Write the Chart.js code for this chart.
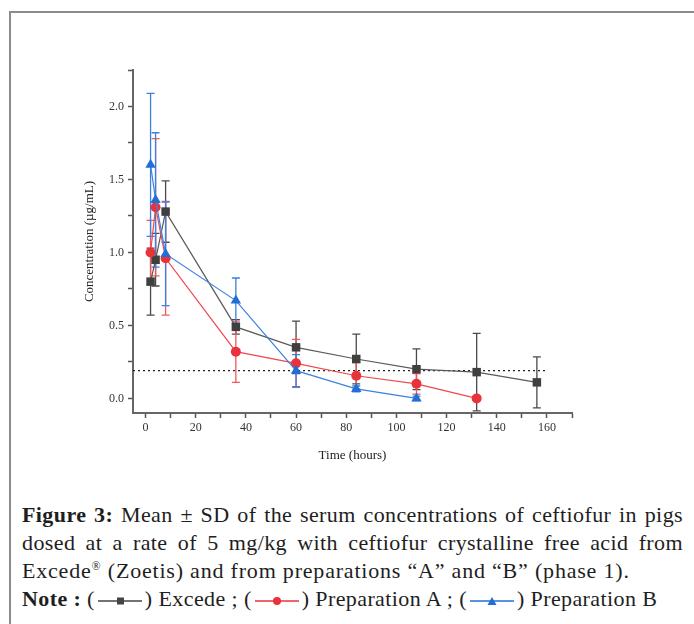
<!DOCTYPE html>
<html>
<head>
<meta charset="utf-8">
<script src="https://cdn.jsdelivr.net/npm/chart.js@4/dist/chart.umd.min.js"></script>
<style>
  html, body { margin: 0; padding: 0; background: #fff; }
  body { width: 694px; height: 624px; position: relative; overflow: hidden; }
  .frame { position: absolute; left: 9px; top: 11px; width: 700px; height: 700px;
           border-left: 2px solid #8c8c8c; border-top: 2px solid #8c8c8c; }
  #wrap { position: absolute; left: 0; top: 0; width: 694px; height: 480px; }
  .cap { position: absolute; left: 22px; top: 501px; width: 661px;
         font-family: "Liberation Serif", "DejaVu Serif", serif; font-size: 22px;
         line-height: 28px; color: #1e1e1e; }
  .cap .j { text-align: justify; text-align-last: justify; white-space: nowrap;
            letter-spacing: 0.4px; word-spacing: -1px; }
  .cap .l3 { letter-spacing: 0.8px; white-space: nowrap; }
  .cap .l4 { letter-spacing: 0.4px; white-space: nowrap; }
  .cap sup { font-size: 12px; line-height: 0; }
  .cap svg { vertical-align: 0px; margin: 0 3px; }
</style>
</head>
<body>
<div class="frame"></div>
<div id="wrap"><canvas id="pkChart"></canvas></div>
<div class="cap">
  <div class="j"><b>Figure 3:</b> Mean ± SD of the serum concentrations of ceftiofur in pigs</div>
  <div class="j">dosed at a rate of 5 mg/kg with ceftiofur crystalline free acid from</div>
  <div class="l3">Excede<sup>®</sup> (Zoetis) and from preparations “A” and “B” (phase 1).</div>
  <div class="l4"><b>Note :</b> (<svg width="44" height="10"><line x1="0" y1="5" x2="44" y2="5" stroke="#444" stroke-width="1.5"/><rect x="19" y="1.5" width="7" height="7" fill="#444"/></svg>) Excede ; (<svg width="44" height="10"><line x1="0" y1="5" x2="44" y2="5" stroke="#e8333b" stroke-width="1.5"/><circle cx="22" cy="5" r="4" fill="#e8333b"/></svg>) Preparation A ; (<svg width="44" height="10"><line x1="0" y1="5" x2="44" y2="5" stroke="#1f6fd6" stroke-width="1.5"/><polygon points="22,1 26.5,9 17.5,9" fill="#1f6fd6"/></svg>) Preparation B</div>
</div>
<script>
// sampling times (hours)
const timeExcede = [2, 4, 8, 36, 60, 84, 108, 132, 156];
const timeA = [2, 4, 8, 36, 60, 84, 108, 132];
const timeB = [2, 4, 8, 36, 60, 84, 108];

// mean concentrations (µg/mL) and SD
const excedeMean = [0.80, 0.95, 1.28, 0.49, 0.35, 0.27, 0.20, 0.18, 0.11];
const excedeSD   = [0.23, 0.18, 0.21, 0.05, 0.18, 0.17, 0.14, 0.265, 0.175];
const prepAMean  = [1.00, 1.31, 0.96, 0.32, 0.24, 0.155, 0.10, 0.00];
const prepASD    = [0.22, 0.47, 0.39, 0.21, 0.165, 0.09, 0.07, 0];
const prepBMean  = [1.60, 1.36, 0.99, 0.67, 0.19, 0.065, 0.00];
const prepBSD    = [0.49, 0.46, 0.355, 0.155, 0.11, 0.02, 0.015];

// dotted reference level
const refTimes = [-5, 160];
const refLevel = [0.19, 0.19];

// axis ticks (major ones get a label)
const xTicks = [0, 10, 20, 30, 40, 50, 60, 70, 80, 90, 100, 110, 120, 130, 140, 150, 160, 170];
const xLabels = [0, 20, 40, 60, 80, 100, 120, 140, 160];
const yTicks = [0, 0.25, 0.5, 0.75, 1, 1.25, 1.5, 1.75, 2, 2.25];
const yLabels = [0, 0.5, 1, 1.5, 2];

const serif = '"Liberation Serif", "DejaVu Serif", serif';

function pts(xs, ys) {
    return xs.map((x, i) => ({ x: x, y: ys[i] }));
}

// draws the mean ± SD bars with the chart's own scales
const errorBars = {
    id: 'errorBars',
    beforeDatasetsDraw(chart) {
        const ctx = chart.ctx;
        const xs = chart.scales.x, ys = chart.scales.y;
        chart.data.datasets.forEach(ds => {
            if (!ds.sd) return;
            ctx.save();
            ctx.strokeStyle = ds.barColor;
            ctx.lineWidth = 1.3;
            ds.data.forEach((p, j) => {
                const sd = ds.sd[j];
                if (!sd) return;
                const x = xs.getPixelForValue(p.x);
                const yt = ys.getPixelForValue(p.y + sd);
                const yb = ys.getPixelForValue(p.y - sd);
                ctx.beginPath();
                ctx.moveTo(x, yt); ctx.lineTo(x, yb);
                ctx.moveTo(x - 4, yt); ctx.lineTo(x + 4, yt);
                ctx.moveTo(x - 4, yb); ctx.lineTo(x + 4, yb);
                ctx.stroke();
            });
            ctx.restore();
        });
    }
};

const ctx = document.getElementById('pkChart').getContext('2d');
const pkChart = new Chart(ctx, {
    type: 'line',
    data: {
        datasets: [
            {
                label: 'Excede',
                data: pts(timeExcede, excedeMean),
                sd: excedeSD,
                barColor: '#4a4a4a',
                borderColor: '#5a5a5a',
                backgroundColor: '#3f3f3f',
                borderWidth: 1.2,
                pointStyle: 'rect',
                pointRadius: 6,
                pointBorderWidth: 0,
                order: 3
            },
            {
                label: 'Preparation A',
                data: pts(timeA, prepAMean),
                sd: prepASD,
                barColor: '#f0585e',
                borderColor: '#f0484f',
                backgroundColor: '#e8333b',
                borderWidth: 1.2,
                pointStyle: 'circle',
                pointRadius: 5,
                pointBorderWidth: 0,
                order: 2
            },
            {
                label: 'Preparation B',
                data: pts(timeB, prepBMean),
                sd: prepBSD,
                barColor: '#3a80e0',
                borderColor: '#3b82e0',
                backgroundColor: '#1f6fd6',
                borderWidth: 1.2,
                pointStyle: 'triangle',
                pointRadius: 6,
                pointBorderWidth: 0,
                order: 1
            },
            {
                label: 'limit',
                data: pts(refTimes, refLevel),
                borderColor: '#222',
                borderWidth: 1.2,
                borderDash: [2, 3],
                pointRadius: 0,
                order: 4
            }
        ]
    },
    options: {
        responsive: true,
        maintainAspectRatio: false,
        animation: false,
        layout: { padding: { left: 78, right: 122, top: 70, bottom: 13 } },
        plugins: { legend: { display: false }, tooltip: { enabled: false } },
        scales: {
            x: {
                type: 'linear',
                min: -5,
                max: 170,
                afterBuildTicks: s => { s.ticks = xTicks.map(v => ({ value: v })); },
                afterFit: s => { s.height = 54; },
                ticks: {
                    autoSkip: false,
                    maxRotation: 0,
                    padding: 3,
                    color: '#333',
                    font: { family: serif, size: 12 },
                    callback: v => (xLabels.includes(v) ? String(v) : '')
                },
                grid: { drawOnChartArea: false, tickLength: 5, tickColor: '#555', tickWidth: 1.5 },
                border: { color: '#666', width: 2 },
                title: { display: true, text: 'Time (hours)', color: '#222', font: { family: serif, size: 13 } }
            },
            y: {
                type: 'linear',
                min: -0.1,
                max: 2.25,
                afterBuildTicks: s => { s.ticks = yTicks.map(v => ({ value: v })); },
                afterFit: s => { s.width = 55; },
                ticks: {
                    autoSkip: false,
                    padding: 4,
                    color: '#333',
                    font: { family: serif, size: 12 },
                    callback: v => (yLabels.includes(v) ? v.toFixed(1) : '')
                },
                grid: { drawOnChartArea: false, tickLength: 5, tickColor: '#555', tickWidth: 1.5 },
                border: { color: '#666', width: 2 },
                title: { display: true, text: 'Concentration (µg/mL)', color: '#222', font: { family: serif, size: 13 } }
            }
        }
    },
    plugins: [errorBars]
});
</script>
</body>
</html>
